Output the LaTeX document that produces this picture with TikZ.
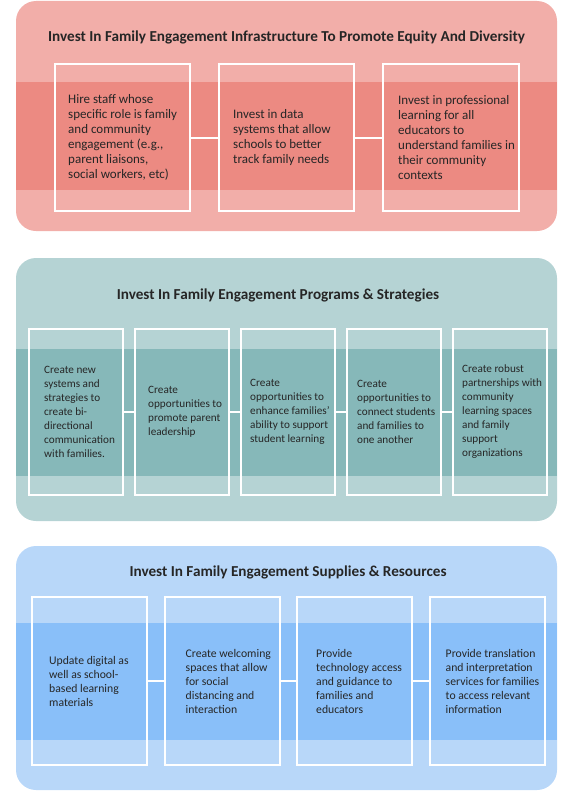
\documentclass[tikz,border=0pt]{standalone}
\usepackage{fontspec}
\setmainfont{Carlito}
\usepackage{tikz}
\usetikzlibrary{positioning}

\definecolor{infraLight}{RGB}{242,174,169}
\definecolor{infraDark}{RGB}{236,138,130}
\definecolor{progLight}{RGB}{181,211,212}
\definecolor{progDark}{RGB}{134,184,185}
\definecolor{suppLight}{RGB}{184,215,249}
\definecolor{suppDark}{RGB}{137,191,249}
\definecolor{ink}{RGB}{38,38,38}

\tikzset{
  card/.style={draw=white, line width=2pt, inner sep=0pt},
  link/.style={draw=white, line width=2pt},
  heading/.style={font=\fontsize{15.2}{18}\selectfont\bfseries, text=ink},
  blurb/.style={anchor=west, align=left, inner sep=0pt, text=ink},
}

\begin{document}
\begin{tikzpicture}[x=1pt, y=-1pt]
        \useasboundingbox (0,0) rectangle (574,792);

        % Pannello 1: infrastruttura
        \fill[infraLight, rounded corners=20pt] (16,1) rectangle (557,231);
        \fill[infraDark] (16,82) rectangle (557,190);
        \node[heading] (infraTitle) at (286.5,37) {Invest In Family Engagement Infrastructure To Promote Equity And Diversity};

        \node[card, minimum width=135pt, minimum height=147pt] (infraA) at (122.5,137.5) {};
        \node[card, minimum width=135pt, minimum height=147pt] (infraB) at (286.5,137.5) {};
        \node[card, minimum width=136pt, minimum height=147pt] (infraC) at (451,137.5) {};
        \draw[link] (infraA.east) -- (infraB.west);
        \draw[link] (infraB.east) -- (infraC.west);

        \tikzset{blurb/.append style={font=\fontsize{13}{15}\selectfont}}
        \node[blurb] (infraAtxt) at ([xshift=14pt]infraA.west) {Hire staff whose\\specific role is family\\and community\\engagement (e.g.,\\parent liaisons,\\social workers, etc)};
        \node[blurb] (infraBtxt) at ([xshift=15pt]infraB.west) {Invest in data\\systems that allow\\schools to better\\track family needs};
        \node[blurb] (infraCtxt) at ([xshift=16pt]infraC.west) {Invest in professional\\learning for all\\educators to\\understand families in\\their community\\contexts};

        % Pannello 2: programmi
        \fill[progLight, rounded corners=20pt] (16,258) rectangle (557,521);
        \fill[progDark] (16,349) rectangle (557,476);
        \node[heading] (progTitle) at (278,295) {Invest In Family Engagement Programs \& Strategies};

        \node[card, minimum width=94pt, minimum height=166pt] (progA) at (76,412) {};
        \node[card, minimum width=94pt, minimum height=166pt] (progB) at (182,412) {};
        \node[card, minimum width=94pt, minimum height=166pt] (progC) at (288,412) {};
        \node[card, minimum width=94pt, minimum height=166pt] (progD) at (394,412) {};
        \node[card, minimum width=94pt, minimum height=166pt] (progE) at (500,412) {};
        \draw[link] (progA.east) -- (progB.west);
        \draw[link] (progB.east) -- (progC.west);
        \draw[link] (progC.east) -- (progD.west);
        \draw[link] (progD.east) -- (progE.west);

        \tikzset{blurb/.append style={font=\fontsize{11.2}{14}\selectfont}}
        \node[blurb] (progAtxt) at ([xshift=16pt]progA.west) {Create new\\systems and\\strategies to\\create bi-\\directional\\communication\\with families.};
        \node[blurb] (progBtxt) at ([xshift=14pt]progB.west) {Create\\opportunities to\\promote parent\\leadership};
        \node[blurb] (progCtxt) at ([xshift=10pt]progC.west) {Create\\opportunities to\\enhance families’\\ability to support\\student learning};
        \node[blurb] (progDtxt) at ([xshift=11pt]progD.west) {Create\\opportunities to\\connect students\\and families to\\one another};
        \node[blurb] (progEtxt) at ([xshift=10pt]progE.west) {Create robust\\partnerships with\\community\\learning spaces\\and family\\support\\organizations};

        % Pannello 3: risorse
        \fill[suppLight, rounded corners=20pt] (16,546) rectangle (557,790);
        \fill[suppDark] (16,623) rectangle (557,740);
        \node[heading] (suppTitle) at (288,572) {Invest In Family Engagement Supplies \& Resources};

        \node[card, minimum width=115pt, minimum height=168pt] (suppA) at (89.5,681) {};
        \node[card, minimum width=115pt, minimum height=168pt] (suppB) at (222,681) {};
        \node[card, minimum width=115pt, minimum height=168pt] (suppC) at (354.5,681) {};
        \node[card, minimum width=115pt, minimum height=168pt] (suppD) at (487,681) {};
        \draw[link] (suppA.east) -- (suppB.west);
        \draw[link] (suppB.east) -- (suppC.west);
        \draw[link] (suppC.east) -- (suppD.west);

        \tikzset{blurb/.append style={font=\fontsize{11.7}{14}\selectfont}}
        \node[blurb] (suppAtxt) at ([xshift=18pt]suppA.west) {Update digital as\\well as school-\\based learning\\materials};
        \node[blurb] (suppBtxt) at ([xshift=22pt]suppB.west) {Create welcoming\\spaces that allow\\for social\\distancing and\\interaction};
        \node[blurb] (suppCtxt) at ([xshift=20pt]suppC.west) {Provide\\technology access\\and guidance to\\families and\\educators};
        \node[blurb] (suppDtxt) at ([xshift=17pt]suppD.west) {Provide translation\\and interpretation\\services for families\\to access relevant\\information};
    \end{tikzpicture}
\end{document}
